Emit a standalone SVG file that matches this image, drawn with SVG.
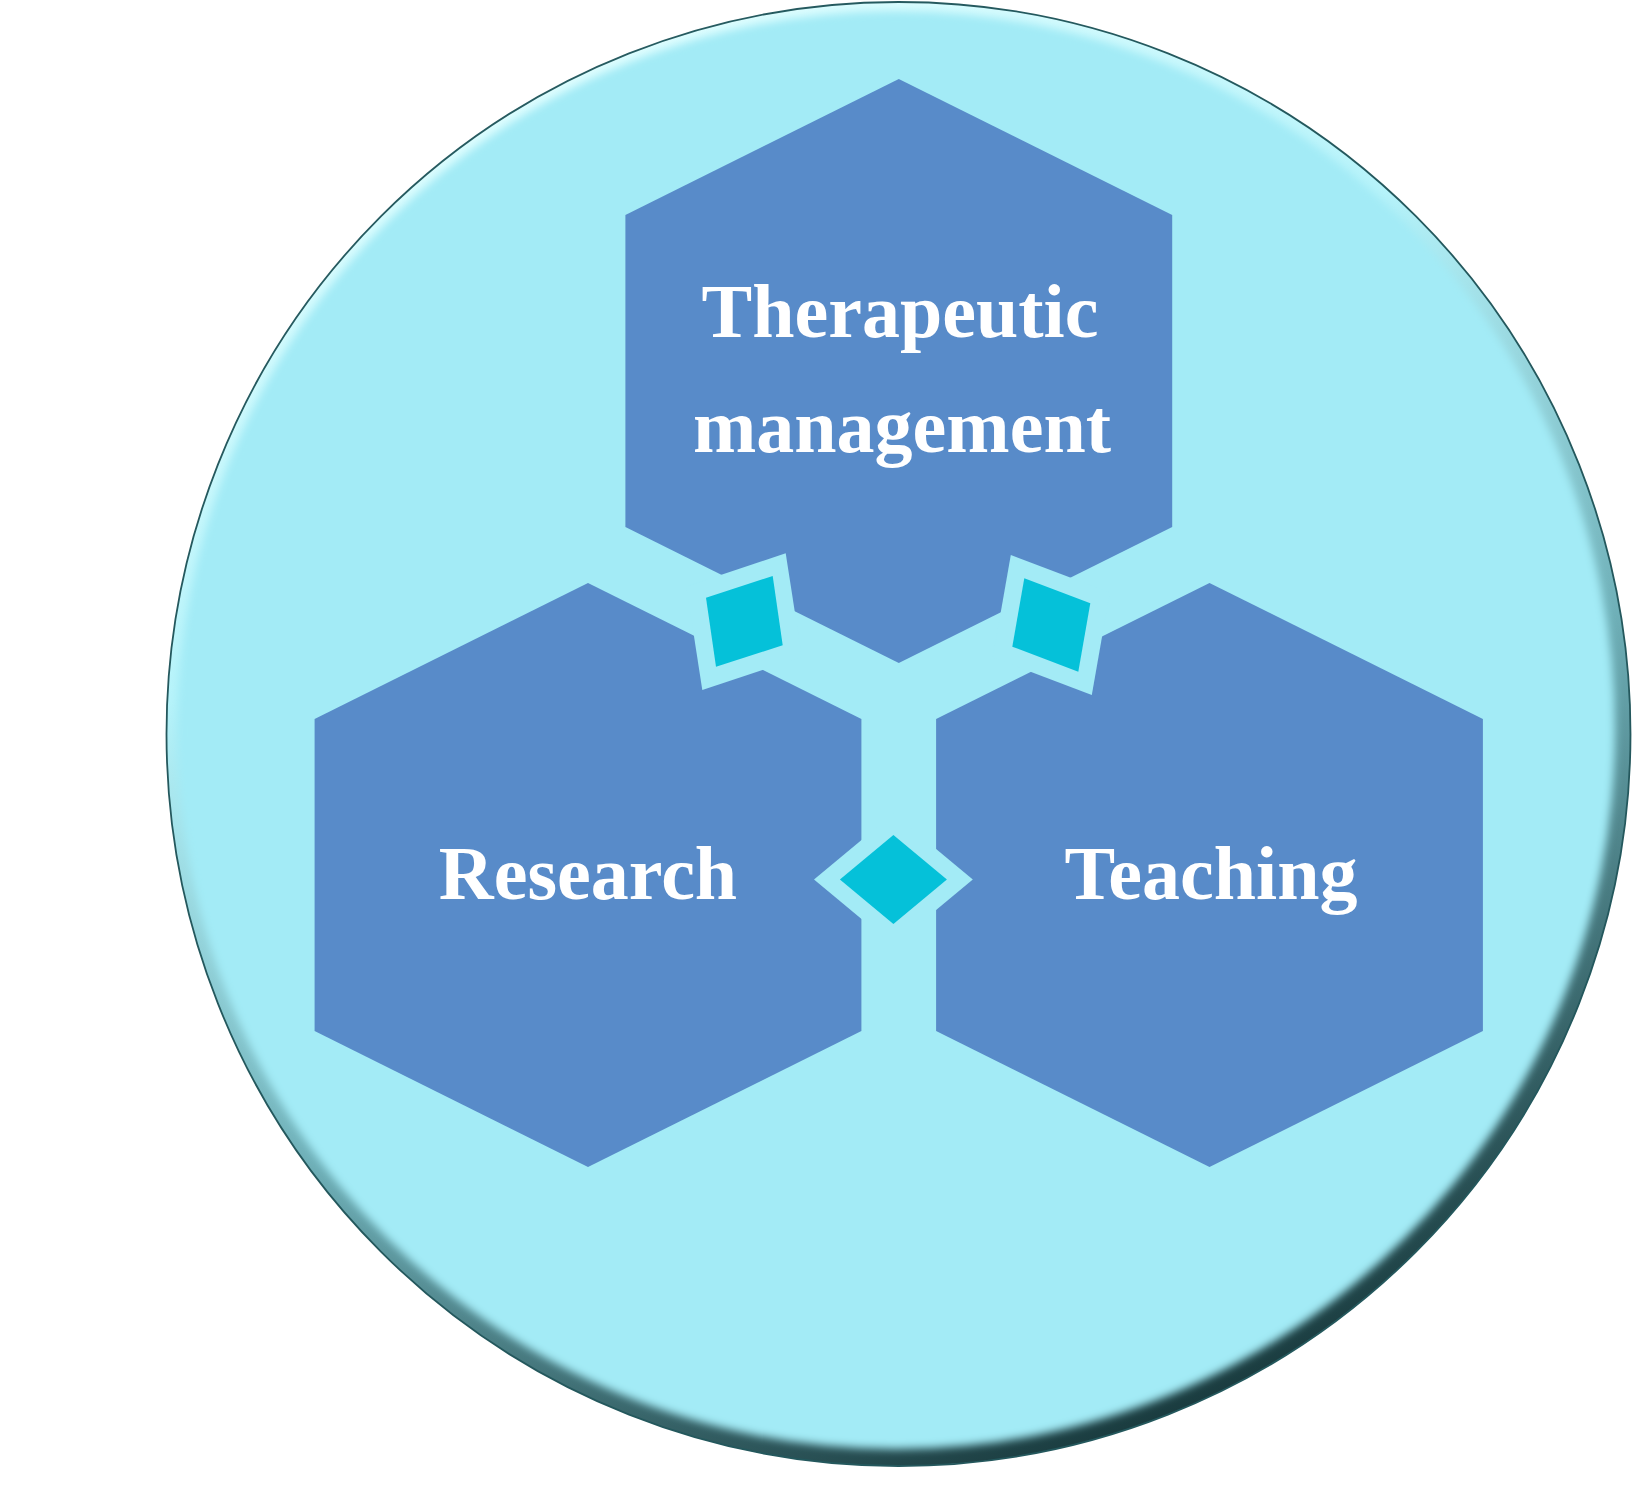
<svg xmlns="http://www.w3.org/2000/svg" width="1633" height="1500" viewBox="0 0 1633 1500">
  <defs>
    <linearGradient id="rimGrad" x1="0.3" y1="0" x2="0.72" y2="1">
      <stop offset="0" stop-color="#e4ffff"/>
      <stop offset="0.3" stop-color="#b6f3fa"/>
      <stop offset="0.6" stop-color="#6fb0b8"/>
      <stop offset="1" stop-color="#102e31"/>
    </linearGradient>
    <filter id="soft" x="-5%" y="-5%" width="110%" height="110%">
      <feGaussianBlur stdDeviation="4"/>
    </filter>
    <style>
      .hex { fill: #588bc9; }
      .label { fill: #ffffff; font-family: "Liberation Serif", "Times New Roman", serif; font-weight: bold; font-size: 76px; text-anchor: middle; }
      .halo { fill: #a3ebf6; }
      .gem { fill: #05c1d9; }
    </style>
  </defs>
  <rect x="0" y="0" width="1633" height="1500" fill="#ffffff"/>
  <g id="background-circle">
    <circle cx="898.5" cy="734" r="732" fill="url(#rimGrad)" stroke="#24585d" stroke-width="1.8"/>
    <circle cx="896" cy="730" r="719" fill="#a3ebf6" filter="url(#soft)"/>
  </g>
  <g id="node-therapeutic">
    <polygon class="hex" points="898.8,79 1172.2,215 1172.2,527 898.8,663 625.4,527 625.4,215"/>
    <text class="label" x="900" y="337">Therapeutic</text>
    <text class="label" x="902" y="452">management</text>
  </g>
  <g id="node-research">
    <polygon class="hex" points="588,583 861.4,719 861.4,1031 588,1167 314.6,1031 314.6,719"/>
    <text class="label" x="588" y="899">Research</text>
  </g>
  <g id="node-teaching">
    <polygon class="hex" points="1209.5,583 1482.9,719 1482.9,1031 1209.5,1167 936.1,1031 936.1,719"/>
    <text class="label" x="1211" y="899">Teaching</text>
  </g>
  <g id="connectors">
    <g id="link-therapeutic-research">
      <polygon class="halo" points="686.3,586.4 785.7,553.3 801.8,656.8 702.3,690"/>
      <polygon class="gem" points="706,597.7 772.7,576 782.7,645.3 716,666.7"/>
    </g>
    <g id="link-therapeutic-teaching">
      <polygon class="halo" points="1010.8,555 1109.8,592.5 1091.8,695 992.8,657.5"/>
      <polygon class="gem" points="1024.3,578.3 1090.3,603.3 1078.3,671.7 1012.3,646.7"/>
    </g>
    <g id="link-research-teaching">
      <polygon class="halo" points="893.4,813.5 972.8,879.5 893.4,945.5 814,879.5"/>
      <polygon class="gem" points="893.4,835 946.9,879.5 893.4,924 839.9,879.5"/>
    </g>
  </g>
</svg>
